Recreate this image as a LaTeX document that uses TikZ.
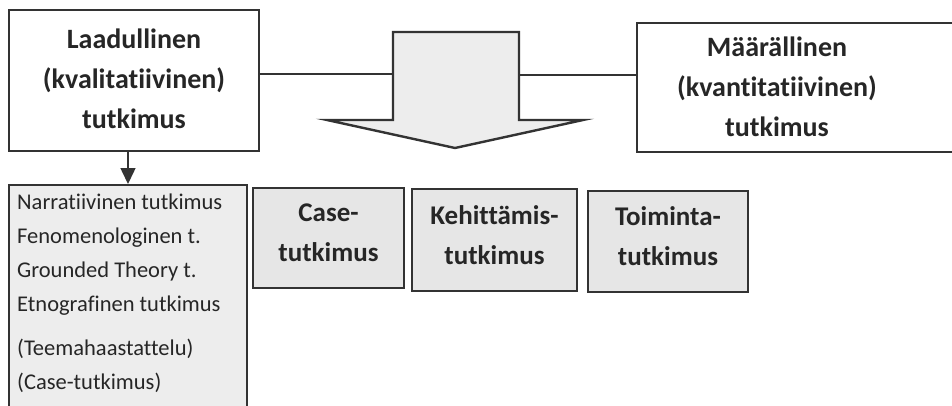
\documentclass[tikz,border=0pt]{standalone}
\usepackage{fontspec}
\setmainfont{Carlito}[Ligatures={NoCommon}]
\usetikzlibrary{arrows.meta}
\definecolor{edge}{HTML}{333333}
\definecolor{lightfill}{HTML}{EDEDED}
\definecolor{boxfill}{HTML}{E6E6E6}
\definecolor{txt}{HTML}{262626}
\begin{document}
\begin{tikzpicture}[x=1pt,y=-1pt,
  titlebox/.style={draw=edge, line width=2pt, fill=white, inner sep=0pt},
  titletext/.style={align=center, text=txt, font=\bfseries\fontsize{28}{40}\selectfont, inner sep=0pt},
  methodbox/.style={draw=edge, line width=2pt, fill=boxfill, align=center, text=txt,
    font=\bfseries\fontsize{27}{40}\selectfont, inner sep=0pt, text depth=10pt},
  listtext/.style={align=left, text=txt, font=\fontsize{22.5}{34}\selectfont, inner sep=0pt},
  link/.style={draw=edge, line width=1.3pt}]
\useasboundingbox (0,0) rectangle (952,405);

% top boxes
\node[titlebox, minimum width=250pt, minimum height=141pt] (left) at (134,80.5) {};
\node[titletext] (lefttext) at (134,79) {Laadullinen\\(kvalitatiivinen)\\tutkimus};

\node[titlebox, minimum width=323pt, minimum height=129pt] (right) at (798.5,87.5) {};
\node[titletext] (righttext) at (777,86.5) {Määrällinen\\(kvantitatiivinen)\\tutkimus};

% big arrow
\coordinate (shaftL) at (393,74);
\coordinate (shaftR) at (519,75);
\draw[draw=edge, line width=2.4pt, fill=lightfill, line join=miter]
  (393,32) -- (519,32) -- (519,120) -- (583,120) -- (455,148) -- (327,120) -- (393,120) -- cycle;

\draw[link] (left.east |- shaftL) -- (shaftL);
\draw[link] (shaftR) -- (right.west |- shaftR);

% list box
\node[draw=edge, line width=2pt, fill=lightfill, minimum width=238pt, minimum height=225pt, inner sep=0pt] (list) at (128,297.5) {};
\node[listtext, anchor=north west] (listtext) at (17,194)
  {Narratiivinen tutkimus\\Fenomenologinen t.\\Grounded Theory t.\\Etnografinen tutkimus\\[10pt](Teemahaastattelu)\\(Case-tutkimus)};

\draw[draw=edge, line width=1.5pt, -{Triangle[length=16pt,width=15pt]}] (left.south -| list.north) -- (list.north);

% method boxes
\node[methodbox, minimum width=151pt, minimum height=100pt] (case) at (328.5,238) {Case-\\tutkimus};
\node[methodbox, minimum width=165pt, minimum height=102pt] (keh) at (494.5,240) {Kehittämis-\\tutkimus};
\node[methodbox, minimum width=160pt, minimum height=101pt] (toim) at (668,241.5) {Toiminta-\\tutkimus};
\end{tikzpicture}
\end{document}
